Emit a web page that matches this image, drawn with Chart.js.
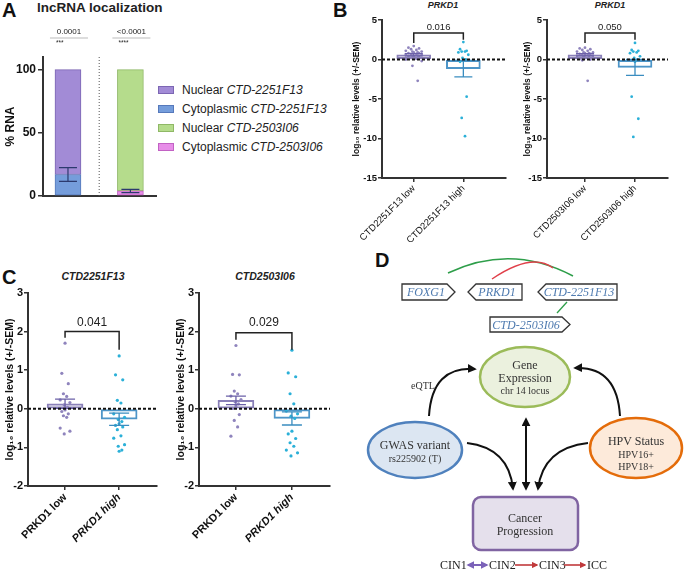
<!DOCTYPE html>
<html>
<head>
<meta charset="utf-8">
<script src="https://cdn.jsdelivr.net/npm/chart.js@4.4.1/dist/chart.umd.min.js"></script>
<style>
  body { margin: 0; background: #fff; }
  #fig { position: relative; width: 686px; height: 571px; overflow: hidden; background: #fff;
         font-family: "Liberation Sans", Arial, sans-serif; color: #222; }
  canvas { position: absolute; }
  .t { position: absolute; white-space: nowrap; line-height: 1; }
  .panel { font-weight: bold; font-size: 20px; color: #111; }
  .ctr { transform: translateX(-50%); }
  #legendA { position: absolute; left: 158px; top: 80px; font-size: 12px; }
  #legendA div { height: 19px; display: flex; align-items: center; white-space: nowrap; }
  #legendA span.sw { display: inline-block; width: 16px; height: 8px; margin-right: 8px; box-sizing: border-box; border: 1px solid; }
  svg { position: absolute; }
</style>
</head>
<body>
<div id="fig">
  <div class="t panel" style="left:2px;top:0px">A</div>
  <div class="t panel" style="left:333px;top:0px">B</div>
  <div class="t panel" style="left:2px;top:267px">C</div>
  <div class="t panel" style="left:375px;top:250px">D</div>
  <div class="t" style="left:37px;top:1px;font-size:13.5px;font-weight:bold">lncRNA localization</div>
  <div class="t ctr" style="left:443px;top:1px;font-size:9px;font-weight:bold;font-style:italic">PRKD1</div>
  <div class="t ctr" style="left:610px;top:1px;font-size:9px;font-weight:bold;font-style:italic">PRKD1</div>
  <div class="t ctr" style="left:93px;top:271px;font-size:10.5px;font-weight:bold;font-style:italic">CTD2251F13</div>
  <div class="t ctr" style="left:265px;top:271px;font-size:10.5px;font-weight:bold;font-style:italic">CTD2503I06</div>
  <div id="legendA"></div>

  <canvas id="chartA"></canvas>
  <canvas id="chartB1"></canvas>
  <canvas id="chartB2"></canvas>
  <canvas id="chartC1"></canvas>
  <canvas id="chartC2"></canvas>

  <svg width="346" height="331" viewBox="340 240 346 331" style="left:340px;top:240px"
       font-family="'Liberation Serif', 'Times New Roman', serif">
    <defs>
      <marker id="ah" viewBox="0 0 10 10" refX="8" refY="5" markerWidth="4.5" markerHeight="4.5" orient="auto-start-reverse">
        <path d="M0,0 L10,5 L0,10 z" fill="#111"/>
      </marker>
      <marker id="ahP" viewBox="0 0 10 10" refX="8" refY="5" markerWidth="4" markerHeight="4" orient="auto-start-reverse">
        <path d="M0,0 L10,5 L0,10 z" fill="#7b62b8"/>
      </marker>
      <marker id="ahR" viewBox="0 0 10 10" refX="8" refY="5" markerWidth="4" markerHeight="4" orient="auto-start-reverse">
        <path d="M0,0 L10,5 L0,10 z" fill="#c0393b"/>
      </marker>
    </defs>
    <path d="M448,273 Q511,243 573,276" fill="none" stroke="#2e9e4a" stroke-width="1.5"/>
    <path d="M492,279 Q532,252 553,268" fill="none" stroke="#e0404a" stroke-width="1.5"/>
    <g fill="#fff" stroke="#333" stroke-width="1.3">
      <polygon points="402,284 447,284 455,292 447,300 402,300"/>
      <polygon points="476,284 522,284 522,300 476,300 468,292"/>
      <polygon points="546,284 617,284 617,300 546,300 538,292"/>
      <polygon points="490,317 562,317 570,324.5 562,332 490,332"/>
    </g>
    <path d="M567,302 L557,313" stroke="#2e9e4a" stroke-width="1.3"/>
    <g font-style="italic" font-size="12" fill="#4f7bb0" text-anchor="middle">
      <text x="426" y="296">FOXG1</text>
      <text x="497" y="296">PRKD1</text>
      <text x="579" y="296">CTD-2251F13</text>
      <text x="526" y="329">CTD-2503I06</text>
    </g>

    <ellipse cx="525" cy="377" rx="45" ry="30" fill="#ebf1de" stroke="#9bbb59" stroke-width="2.5"/>
    <ellipse cx="415" cy="450" rx="47" ry="28" fill="#dce6f2" stroke="#4f81bd" stroke-width="2.5"/>
    <ellipse cx="636" cy="448" rx="46" ry="30" fill="#fdeada" stroke="#e46c0a" stroke-width="2.5"/>
    <rect x="473" y="497" width="105" height="53" rx="8" fill="#e5e0ec" stroke="#8064a2" stroke-width="2.5"/>

    <g fill="#333" text-anchor="middle">
      <text x="525" y="369" font-size="12">Gene</text>
      <text x="525" y="382" font-size="12">Expression</text>
      <text x="525" y="394" font-size="10">chr 14 locus</text>
      <text x="415" y="449" font-size="12">GWAS variant</text>
      <text x="415" y="462" font-size="10">rs225902 (T)</text>
      <text x="636" y="445" font-size="12">HPV Status</text>
      <text x="636" y="458" font-size="10">HPV16+</text>
      <text x="636" y="470" font-size="10">HPV18+</text>
      <text x="525" y="522" font-size="12">Cancer</text>
      <text x="525" y="535" font-size="12">Progression</text>
      <text x="423" y="389" font-size="10">eQTL</text>
    </g>

    <g fill="none" stroke="#111" stroke-width="2">
      <path d="M429,416 Q432,366 475,369" marker-end="url(#ah)"/>
      <path d="M620,416 Q617,366 575,368" marker-end="url(#ah)"/>
      <path d="M526,419 L526,489" marker-start="url(#ah)" marker-end="url(#ah)"/>
      <path d="M467,443 Q509,448 513,489" marker-end="url(#ah)"/>
      <path d="M588,443 Q543,448 538,489" marker-end="url(#ah)"/>
    </g>

    <g font-size="12" fill="#222">
      <text x="440" y="569">CIN1</text>
      <text x="489" y="569">CIN2</text>
      <text x="539" y="569">CIN3</text>
      <text x="587" y="569">ICC</text>
    </g>
    <path d="M468,565 L487,565" stroke="#7b62b8" stroke-width="2" marker-start="url(#ahP)" marker-end="url(#ahP)"/>
    <path d="M515,565 L537,565" stroke="#c0393b" stroke-width="1.6" marker-end="url(#ahR)"/>
    <path d="M564,565 L585,565" stroke="#c0393b" stroke-width="1.6" marker-end="url(#ahR)"/>
  </svg>
</div>

<script>
// ---------- Panel A: lncRNA localization (% RNA, stacked) ----------
const locGenes = ["CTD-2251F13", "CTD-2503I06"];
const nuclear2251 = [83, null];
const cyto2251 = [17, null];
const nuclear2503 = [null, 96];
const cyto2503 = [null, 4];
const cytoSem = [5.5, 1.3];
const locP = ["0.0001", "<0.0001"];
const locStars = ["***", "****"];

// ---------- Panel B: PRKD1 by lncRNA group ----------
const bGroups1 = ["CTD2251F13 low", "CTD2251F13 high"];
const bLow1 = [1.7, 1.5, 1.4, 1.3, 1.2, 1.1, 1.0, 1.0, 0.9, 0.9, 0.8, 0.8, 0.7, 0.7, 0.6, 0.6, 0.5, 0.5, 0.4, 0.3, 0.3, 0.2, 0.1, 0.0, -0.2, -0.8, -2.7];
const bHigh1 = [2.2, 1.3, 1.1, 1.0, 1.0, 0.9, 0.6, 0.2, 0.0, -0.1, -0.3, -4.7, -7.4, -9.7];
const bMean1 = [0.6, -1.15];
const bSem1 = [0.15, 1.05];

const bGroups2 = ["CTD2503I06 low", "CTD2503I06 high"];
const bLow2 = [1.5, 1.4, 1.3, 1.2, 1.1, 1.0, 0.9, 0.9, 0.8, 0.8, 0.7, 0.7, 0.6, 0.6, 0.5, 0.5, 0.4, 0.3, 0.2, 0.1, 0.0, -0.1, -2.7];
const bHigh2 = [2.1, 1.2, 1.1, 1.0, 0.9, 0.8, 0.4, 0.2, 0.0, -0.3, -4.7, -7.5, -9.8];
const bMean2 = [0.6, -1.0];
const bSem2 = [0.15, 1.0];
const bP = ["0.016", "0.050"];

// ---------- Panel C: lncRNA by PRKD1 group ----------
const cGroups = ["PRKD1 low", "PRKD1 high"];
const cLow1 = [1.7, 0.92, 0.65, 0.39, 0.32, 0.23, 0.16, 0.1, 0.04, -0.03, -0.07, -0.13, -0.18, -0.22, -0.5, -0.58, -0.65];
const cHigh1 = [1.37, 0.88, 0.75, 0.22, 0.15, -0.13, -0.22, -0.28, -0.33, -0.39, -0.43, -0.47, -0.54, -0.7, -0.76, -0.93, -0.97, -1.07, -1.1];
const cMean1 = [0.13, -0.27];
const cSem1 = [0.12, 0.16];

const cLow2 = [1.64, 0.89, 0.88, 0.46, 0.39, 0.33, 0.24, 0.18, 0.13, 0.07, 0.01, -0.15, -0.3, -0.47, -0.71];
const cHigh2 = [1.52, 0.93, 0.83, 0.39, 0.13, -0.06, -0.13, -0.19, -0.25, -0.58, -0.65, -0.77, -0.88, -0.97, -1.07, -1.14, -1.22];
const cMean2 = [0.22, -0.25];
const cSem2 = [0.11, 0.17];
const cP = ["0.041", "0.029"];

const SANS = '"Liberation Sans", Arial, sans-serif';
Chart.defaults.font.family = SANS;
Chart.defaults.color = "#222";
Chart.defaults.animation = false;

const AXIS = "#333";
const LOW_DOT = "#8f84bd", HIGH_DOT = "#2bb0d8";
const LOW_LINE = "#8a80b8", HIGH_LINE = "#4d95c8";
const LOW_ERR = "#6b60a8", HIGH_ERR = "#3a8dc0";

function place(id, box) {
  const c = document.getElementById(id);
  c.width = box.w; c.height = box.h;
  c.style.left = box.x + "px"; c.style.top = box.y + "px";
  c.style.width = box.w + "px"; c.style.height = box.h + "px";
  return c;
}
function padFor(box, plot) {
  return { top: plot.t - box.y, right: box.x + box.w - plot.r, left: 0, bottom: 0 };
}
function fixY(box, plot) {
  return s => { s.width = plot.l - box.x; s.paddingTop = 0; s.paddingBottom = 0; };
}
function fixX(box, plot) {
  return s => { s.height = box.y + box.h - plot.b; s.paddingLeft = 0; s.paddingRight = 0; };
}

// small side-to-side offsets so neighbouring dots don't sit on top of each other
const jitPattern = [0, -1, 1, -0.5, 0.5, -1.5, 1.5, -0.25, 0.75];
const jit = i => jitPattern[i % jitPattern.length] / 1.5;

function errBars(ctx, x, y, means, sems, colors, cap, lw) {
  means.forEach((m, i) => {
    const px = x.getPixelForValue(i);
    const top = y.getPixelForValue(m + sems[i]);
    const bot = y.getPixelForValue(m - sems[i]);
    ctx.strokeStyle = colors[i];
    ctx.lineWidth = lw;
    ctx.beginPath();
    ctx.moveTo(px, top); ctx.lineTo(px, bot);
    ctx.moveTo(px - cap, top); ctx.lineTo(px + cap, top);
    ctx.moveTo(px - cap, bot); ctx.lineTo(px + cap, bot);
    ctx.stroke();
  });
}

// ---------- Panel A chart ----------
(function () {
  const box = { x: 0, y: 20, w: 160, h: 185 };
  const plot = { l: 43, t: 57, r: 156, b: 196 };
  place("chartA", box);
  const pts = arr => arr.map((v, i) => v == null ? null : { x: i, y: v }).filter(Boolean);

  const series = [
    { kind: "Nuclear", gene: locGenes[0], vals: nuclear2251, fill: "#a28bd6", line: "#7c66b3" },
    { kind: "Cytoplasmic", gene: locGenes[0], vals: cyto2251, fill: "#759ddb", line: "#5679bb" },
    { kind: "Nuclear", gene: locGenes[1], vals: nuclear2503, fill: "#b5dc8c", line: "#8fb866" },
    { kind: "Cytoplasmic", gene: locGenes[1], vals: cyto2503, fill: "#e78de8", line: "#c262c4" }
  ];
  // stack order: cytoplasmic at the bottom
  const stackOrder = [1, 0, 3, 2];

  document.getElementById("legendA").innerHTML = series.map(s =>
    `<div><span class="sw" style="background:${s.fill};border-color:${s.line}"></span>${s.kind}&nbsp;<i>${s.gene}</i></div>`
  ).join("");

  const annot = {
    id: "annotA",
    afterDatasetsDraw(chart) {
      const { ctx, chartArea: a, scales: { x, y } } = chart;
      ctx.save();
      // dotted separator between the two lncRNAs
      const mid = (x.getPixelForValue(0) + x.getPixelForValue(1)) / 2;
      ctx.setLineDash([1, 2]);
      ctx.strokeStyle = "#555"; ctx.lineWidth = 1;
      ctx.beginPath(); ctx.moveTo(mid, a.top); ctx.lineTo(mid, a.bottom); ctx.stroke();
      ctx.setLineDash([]);
      // SEM on the cytoplasmic fraction
      const cytoMeans = [cyto2251[0], cyto2503[1]];
      errBars(ctx, x, y, cytoMeans, cytoSem, ["#2c3a6e", "#2c3a6e"], 9, 1.2);
      // p-values
      locP.forEach((p, i) => {
        const cx = x.getPixelForValue(i) + 1;
        ctx.strokeStyle = "#bbb"; ctx.lineWidth = 1;
        ctx.beginPath(); ctx.moveTo(cx - 19, a.top - 19); ctx.lineTo(cx + 19, a.top - 19); ctx.stroke();
        ctx.fillStyle = "#222";
        ctx.font = "8px " + SANS;
        ctx.textAlign = "center"; ctx.textBaseline = "middle";
        ctx.fillText(p, cx, a.top - 25);
        ctx.textAlign = "left";
        ctx.font = "6.5px " + SANS;
        ctx.fillText(locStars[i], cx - 13, a.top - 14);
      });
      ctx.restore();
    }
  };

  new Chart(document.getElementById("chartA"), {
    type: "bar",
    data: {
      datasets: stackOrder.map(k => ({
        label: series[k].kind + " " + series[k].gene,
        data: pts(series[k].vals),
        backgroundColor: series[k].fill,
        borderColor: series[k].line,
        borderWidth: 1,
        borderSkipped: false,
        barThickness: 26
      }))
    },
    options: {
      responsive: false,
      layout: { padding: padFor(box, plot) },
      plugins: { legend: { display: false }, tooltip: { enabled: false } },
      scales: {
        x: {
          type: "linear", stacked: true, min: -0.4, max: 1.41, offset: false,
          grid: { display: false, offset: false },
          ticks: { display: false },
          border: { display: true, color: AXIS, width: 2 },
          afterFit: fixX(box, plot)
        },
        y: {
          stacked: true, min: 0, max: 110,
          afterBuildTicks: s => { s.ticks = [0, 50, 100].map(v => ({ value: v })); },
          ticks: { font: { size: 12, weight: "bold" }, color: "#111", padding: 2 },
          grid: { display: true, drawOnChartArea: false, drawTicks: true, tickLength: 5, color: AXIS, lineWidth: 1.5 },
          border: { display: true, color: AXIS, width: 2 },
          title: { display: true, text: "% RNA", font: { size: 12, weight: "bold" }, color: "#111", padding: { top: 3, bottom: 0 } },
          afterFit: fixY(box, plot)
        }
      }
    },
    plugins: [annot]
  });
})();

// ---------- dot + bar charts (panels B and C) ----------
function dotChart(id, box, plot, p) {
  place(id, box);
  const lowPts = p.low.map((v, i) => ({ x: jit(i) * p.wLow, y: v }));
  const highPts = p.high.map((v, i) => ({ x: 1 + jit(i) * p.wHigh, y: v }));

  const overlay = {
    id: "overlay",
    afterDatasetsDraw(chart) {
      const { ctx, chartArea: a, scales: { x, y } } = chart;
      ctx.save();
      errBars(ctx, x, y, p.means, p.sems, [LOW_ERR, HIGH_ERR], p.cap, 1.3);
      // dashed line at zero
      const y0 = y.getPixelForValue(0);
      ctx.setLineDash([3, 2]);
      ctx.strokeStyle = "#111"; ctx.lineWidth = 2;
      ctx.beginPath(); ctx.moveTo(a.left, y0); ctx.lineTo(a.right, y0); ctx.stroke();
      ctx.setLineDash([]);
      // significance bracket
      const br = p.bracket;
      const x0 = x.getPixelForValue(0), x1 = x.getPixelForValue(1);
      ctx.strokeStyle = "#222"; ctx.lineWidth = 1.5;
      ctx.beginPath();
      ctx.moveTo(x0, y.getPixelForValue(br.left));
      ctx.lineTo(x0, y.getPixelForValue(br.top));
      ctx.lineTo(x1, y.getPixelForValue(br.top));
      ctx.lineTo(x1, y.getPixelForValue(br.right));
      ctx.stroke();
      ctx.fillStyle = "#222";
      ctx.font = p.pFont + "px " + SANS;
      ctx.textAlign = "center"; ctx.textBaseline = "middle";
      ctx.fillText(br.text, (x0 + x1) / 2, y.getPixelForValue(br.textY));
      ctx.restore();
    }
  };

  return new Chart(document.getElementById(id), {
    type: "bar",
    data: {
      datasets: [
        {
          type: "bar", order: 3,
          data: p.means.map((m, i) => ({ x: i, y: m })),
          backgroundColor: "rgba(255,255,255,0)",
          borderColor: [LOW_LINE, HIGH_LINE], borderWidth: 1.3, borderSkipped: false,
          barThickness: p.barW
        },
        { type: "scatter", order: 2, data: lowPts, pointRadius: p.r, pointBorderWidth: 0, pointBackgroundColor: LOW_DOT },
        { type: "scatter", order: 1, data: highPts, pointRadius: p.r, pointBorderWidth: 0, pointBackgroundColor: HIGH_DOT }
      ]
    },
    options: {
      responsive: false,
      layout: { padding: padFor(box, plot) },
      plugins: { legend: { display: false }, tooltip: { enabled: false } },
      scales: {
        x: {
          type: "linear", min: p.xMin, max: p.xMax, offset: false,
          afterBuildTicks: s => { s.ticks = [{ value: 0 }, { value: 1 }]; },
          ticks: {
            autoSkip: false, minRotation: 45, maxRotation: 45, padding: 1, color: "#111",
            callback: v => p.groups[v],
            font: ctx => ({ size: p.xFont, weight: p.xBold ? "bold" : "normal",
                            style: (p.italicHigh && ctx.index === 1) ? "italic" : "normal" })
          },
          grid: { display: true, offset: false, drawOnChartArea: false, drawTicks: true, tickLength: 4, color: AXIS, lineWidth: 1.5 },
          border: { display: true, color: AXIS, width: 2 },
          afterFit: fixX(box, plot)
        },
        y: {
          min: p.yMin, max: p.yMax,
          ticks: { stepSize: p.yStep, font: { size: p.yFont, weight: "bold" }, color: "#111", padding: 1 },
          grid: { display: true, drawOnChartArea: false, drawTicks: true, tickLength: 4, color: AXIS, lineWidth: 1.5 },
          border: { display: true, color: AXIS, width: 2 },
          title: { display: true, text: "log\u2081\u2080 relative levels (+/-SEM)",
                   font: { size: p.titleFont, weight: "bold" }, color: "#111",
                   padding: { top: p.titlePad, bottom: 0 } },
          afterFit: fixY(box, plot)
        }
      }
    },
    plugins: [overlay]
  });
}

const bCommon = { yMin: -15, yMax: 5, yStep: 5, yFont: 9.5, titleFont: 8.5, xFont: 9.5, xBold: false,
                  italicHigh: false, barW: 34, cap: 9, r: 1.4, wLow: 0.16, wHigh: 0.1, pFont: 9.5 };
dotChart("chartB1", { x: 345, y: 10, w: 165, h: 232 }, { l: 382, t: 20, r: 507, b: 178 },
  Object.assign({}, bCommon, { groups: bGroups1, low: bLow1, high: bHigh1, means: bMean1, sems: bSem1,
    xMin: -0.64, xMax: 1.86, titlePad: 7,
    bracket: { text: bP[0], top: 3.35, left: 2.1, right: 2.5, textY: 4.1 } }));
dotChart("chartB2", { x: 518, y: 10, w: 160, h: 232 }, { l: 547, t: 20, r: 668, b: 178 },
  Object.assign({}, bCommon, { groups: bGroups2, low: bLow2, high: bHigh2, means: bMean2, sems: bSem2,
    xMin: -0.76, xMax: 1.66, titlePad: 5,
    bracket: { text: bP[1], top: 3.35, left: 2.1, right: 2.5, textY: 4.1 } }));

const cCommon = { groups: cGroups, yMin: -2, yMax: 3, yStep: 1, yFont: 11, titleFont: 10.5, xFont: 11, xBold: true,
                  italicHigh: true, barW: 36, cap: 10, r: 1.6, wLow: 0.09, wHigh: 0.1, pFont: 12 };
dotChart("chartC1", { x: 0, y: 285, w: 162, h: 275 }, { l: 28, t: 293, r: 157, b: 486 },
  Object.assign({}, cCommon, { low: cLow1, high: cHigh1, means: cMean1, sems: cSem1,
    xMin: -0.685, xMax: 1.70, titlePad: 4,
    bracket: { text: cP[0], top: 2.0, left: 1.84, right: 1.53, textY: 2.23 } }));
dotChart("chartC2", { x: 171, y: 285, w: 163, h: 275 }, { l: 199, t: 293, r: 330, b: 486 },
  Object.assign({}, cCommon, { low: cLow2, high: cHigh2, means: cMean2, sems: cSem2,
    xMin: -0.66, xMax: 1.68, titlePad: 4,
    bracket: { text: cP[1], top: 1.97, left: 1.79, right: 1.53, textY: 2.23 } }));
</script>
</body>
</html>
